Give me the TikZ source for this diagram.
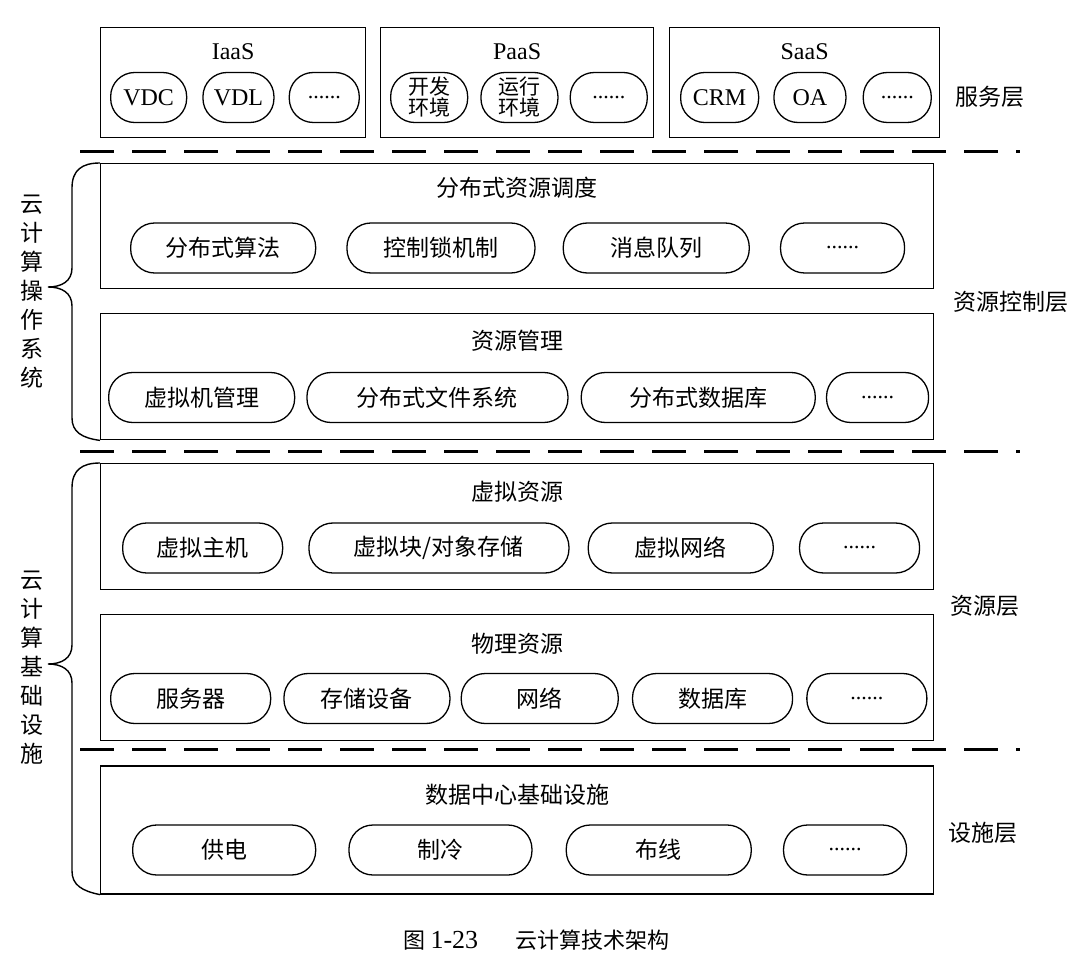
\documentclass[tikz,border=0pt]{standalone}
\usepackage{fontspec}
\setmainfont{Liberation Serif}
\newfontfamily\cjk{Noto Sans CJK SC}
\usetikzlibrary{positioning, calc}

\begin{document}
\begin{tikzpicture}[
    x=1pt, y=-1pt,
    layerbox/.style={draw, line width=1.2pt, inner sep=0pt, anchor=north west},
    pill/.style={draw, rounded corners=24pt, line width=1.3pt, minimum height=50pt,
                 inner sep=0pt, text centered, font=\cjk\fontsize{23}{26}\selectfont},
    twoline/.style={align=center, font=\cjk\fontsize{21}{21}\selectfont},
    latin/.style={font=\fontsize{24}{26}\selectfont},
    etc/.style={pill, font=\fontsize{22}{24}\selectfont},
    ttl/.style={font=\cjk\fontsize{23}{26}\selectfont},
    side/.style={font=\cjk\fontsize{23}{26}\selectfont},
    vert/.style={font=\cjk\fontsize{23}{29}\selectfont, align=center, inner sep=0pt},
    sepline/.style={line width=3pt, dash pattern=on 34pt off 18pt},
    bracepath/.style={line width=1.4pt}
  ]
  \useasboundingbox (0,0) rectangle (1091,965);

  % Service layer
  \node[layerbox, minimum width=265pt, minimum height=110pt] (iaas) at (100,27) {};
  \node[latin] (iaasttl) at ([yshift=-25pt]iaas.north) {IaaS};
  \node[pill, latin, minimum width=76pt, anchor=west] (vdc) at (110,97.5) {VDC};
  \node[pill, latin, minimum width=71pt, right=15pt of vdc] (vdl) {VDL};
  \node[etc, minimum width=70pt, right=14pt of vdl] (iaasetc) {......};

  \node[layerbox, minimum width=273pt, minimum height=110pt] (paas) at (380,27) {};
  \node[latin] (paasttl) at ([yshift=-25pt]paas.north) {PaaS};
  \node[pill, twoline, minimum width=77pt, anchor=west] (devenv) at (390,97.5) {开发\\环境};
  \node[pill, twoline, minimum width=77pt, right=12pt of devenv] (runenv) {运行\\环境};
  \node[etc, minimum width=77pt, right=11pt of runenv] (paasetc) {......};

  \node[layerbox, minimum width=270pt, minimum height=110pt] (saas) at (669,27) {};
  \node[latin] (saasttl) at ([yshift=-25pt]saas.north) {SaaS};
  \node[pill, latin, minimum width=78pt, anchor=west] (crm) at (680,97.5) {CRM};
  \node[pill, latin, minimum width=72pt, right=14pt of crm] (oa) {OA};
  \node[etc, minimum width=68pt, right=16pt of oa] (saasetc) {......};

  \node[side] (svclbl) at (990,97) {服务层};

  \draw[sepline] (80,152) -- (1020,152);

  % Resource control layer
  \node[layerbox, minimum width=833pt, minimum height=125pt] (sched) at (100,163) {};
  \node[ttl] (schedttl) at ([yshift=-25pt]sched.north) {分布式资源调度};
  \node[pill, minimum width=185pt, anchor=west] (algo) at (130,248) {分布式算法};
  \node[pill, minimum width=188pt, right=30pt of algo] (lock) {控制锁机制};
  \node[pill, minimum width=186pt, right=27pt of lock] (queue) {消息队列};
  \node[etc, minimum width=124pt, right=30pt of queue] (schedetc) {......};

  \node[layerbox, minimum width=833pt, minimum height=126pt,
        below=24pt of sched.south west, anchor=north west] (mgmt) {};
  \node[ttl] (mgmtttl) at ([yshift=-28pt]mgmt.north) {资源管理};
  \node[pill, minimum width=186pt, anchor=west] (vmm) at (108,397.5) {虚拟机管理};
  \node[pill, minimum width=261pt, right=11pt of vmm] (dfs) {分布式文件系统};
  \node[pill, minimum width=234pt, right=12pt of dfs] (ddb) {分布式数据库};
  \node[etc, minimum width=102pt, right=10pt of ddb] (mgmtetc) {......};

  \node[side] (ctllbl) at (1011,302) {资源控制层};

  \draw[sepline] (80,451) -- (1020,451);

  % Resource layer
  \node[layerbox, minimum width=833pt, minimum height=126pt] (virt) at (100,463) {};
  \node[ttl] (virtttl) at ([yshift=-29pt]virt.north) {虚拟资源};
  \node[pill, minimum width=160pt, anchor=west] (vhost) at (122,548) {虚拟主机};
  \node[pill, minimum width=260pt, right=25pt of vhost] (vstore) {虚拟块/对象存储};
  \node[pill, minimum width=185pt, right=18pt of vstore] (vnet) {虚拟网络};
  \node[etc, minimum width=120pt, right=25pt of vnet] (virtetc) {......};

  \node[layerbox, minimum width=833pt, minimum height=126pt,
        below=24pt of virt.south west, anchor=north west] (phys) {};
  \node[ttl] (physttl) at ([yshift=-30pt]phys.north) {物理资源};
  \node[pill, minimum width=160pt, anchor=west] (server) at (110,698.5) {服务器};
  \node[pill, minimum width=166pt, right=12pt of server] (storage) {存储设备};
  \node[pill, minimum width=157pt, right=10pt of storage] (network) {网络};
  \node[pill, minimum width=160pt, right=13pt of network] (database) {数据库};
  \node[etc, minimum width=120pt, right=13pt of database] (physetc) {......};

  \node[side] (reslbl) at (985,606) {资源层};

  \draw[sepline] (80,749) -- (1020,749);

  % Facility layer
  \node[layerbox, minimum width=833pt, minimum height=128pt,
        below=24pt of phys.south west, anchor=north west] (dc) {};
  \node[ttl] (dcttl) at ([yshift=-29pt]dc.north) {数据中心基础设施};
  \node[pill, minimum width=183pt, anchor=west] (power) at (132,850) {供电};
  \node[pill, minimum width=183pt, right=32pt of power] (cool) {制冷};
  \node[pill, minimum width=185pt, right=33pt of cool] (cabling) {布线};
  \node[etc, minimum width=123pt, right=31pt of cabling] (dcetc) {......};

  \node[side] (faclbl) at (983,833) {设施层};

  % Braces
  \node[vert] (oslbl) at (32,292) {云\\计\\算\\操\\作\\系\\统};
  \node[vert] (infralbl) at (32,668) {云\\计\\算\\基\\础\\设\\施};

  \draw[bracepath] (sched.north west) .. controls (82,163) and (72,170) .. (72,188)
    -- (72,268) .. controls (72,281) and (62,287) .. (48,287)
    .. controls (62,287) and (72,293) .. (72,306)
    -- (72,418) .. controls (72,432) and (82,438) .. (mgmt.south west);
  \draw[bracepath] (virt.north west) .. controls (82,463) and (72,470) .. (72,488)
    -- (72,645) .. controls (72,658) and (62,664) .. (48,664)
    .. controls (62,664) and (72,670) .. (72,683)
    -- (72,871) .. controls (72,885) and (82,891) .. (dc.south west);

  % Caption
  \node[anchor=west] (caption) at (400,940)
    {{\cjk\fontsize{22}{24}\selectfont 图}\hspace{5pt}{\fontsize{26}{28}\selectfont 1-23}\hspace{37pt}{\cjk\fontsize{22}{24}\selectfont 云计算技术架构}};

\end{tikzpicture}
\end{document}
